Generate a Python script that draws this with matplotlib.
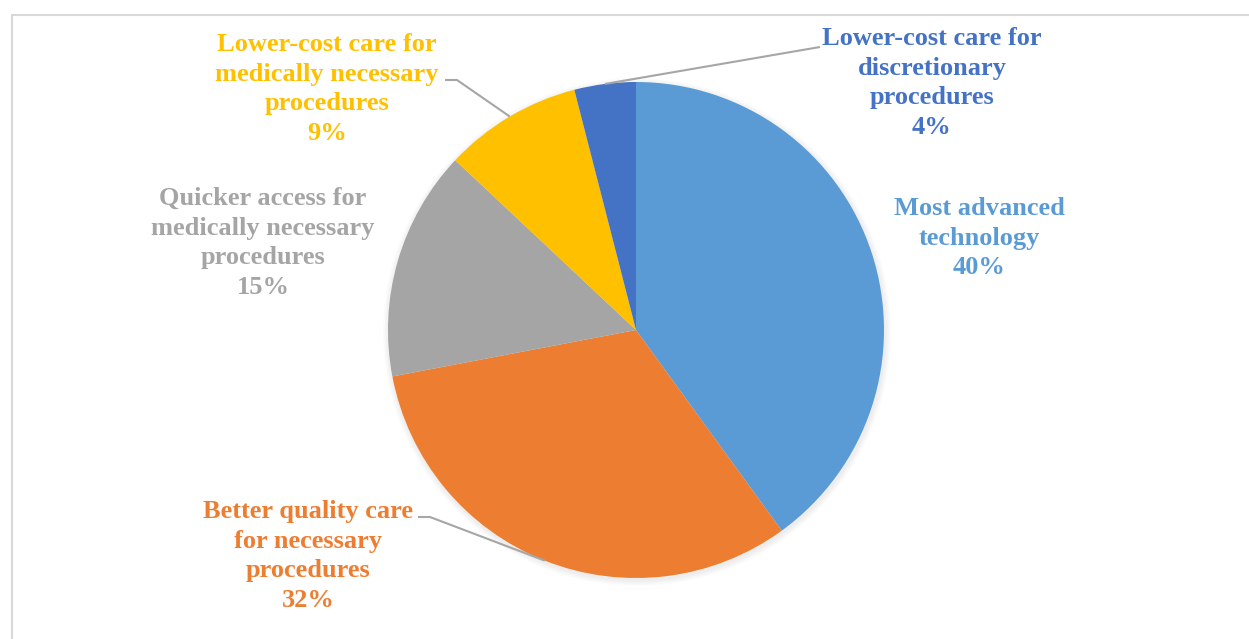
import numpy as np
import matplotlib
matplotlib.use("Agg")
import matplotlib.pyplot as plt
from matplotlib.patches import Rectangle, Circle

# data
labels = ["Most advanced\ntechnology",
          "Better quality care\nfor necessary\nprocedures",
          "Quicker access for\nmedically necessary\nprocedures",
          "Lower-cost care for\nmedically necessary\nprocedures",
          "Lower-cost care for\ndiscretionary\nprocedures"]
values = [40, 32, 15, 9, 4]
colors = ["#5B9BD5", "#ED7D31", "#A5A5A5", "#FFC000", "#4472C4"]

W, H = 1249, 639
fig = plt.figure(figsize=(W / 100, H / 100), dpi=100)
ax = fig.add_axes([0, 0, 1, 1])

cx, cy, R = 636, H - 330, 248

# soft shadow
for k in range(6):
    ax.add_patch(Circle((cx + 1, cy - 2), R + 6 - k, color="black", alpha=0.012, lw=0))

wedges, _ = ax.pie(values, colors=colors, startangle=90, counterclock=False,
                   center=(cx, cy), radius=R, frame=True,
                   wedgeprops=dict(linewidth=0))
ax.set_xlim(0, W)
ax.set_ylim(0, H)
ax.axis("off")

# label block centres in pixels
label_pos = [(979, 238), (308, 556), (263, 243), (327, 89), (932, 83)]
leader = [None, (418, 517), None, (445, 80), (820, 47)]

font = dict(family="Liberation Serif", fontweight="bold", fontsize=19)
for i, (lab, v) in enumerate(zip(labels, values)):
    x, y = label_pos[i]
    ax.text(x, H - y, "%s\n%d%%" % (lab, v), color=colors[i], ha="center", va="center",
            linespacing=1.37, **font)
    if leader[i] is not None:
        # point on edge at slice mid angle
        w = wedges[i]
        mid = np.deg2rad((w.theta1 + w.theta2) / 2)
        ex, ey = cx + R * np.cos(mid), cy + R * np.sin(mid)
        lx, ly = leader[i]
        if i == 4:
            xs, ys = [lx, ex], [H - ly, ey]
        else:
            xs, ys = [lx, lx + 12, ex], [H - ly, H - ly, ey]
        ax.plot(xs, ys, color="#A6A6A6", lw=1.5, solid_capstyle="butt")

# chart border
fig.patches.append(Rectangle((12 / W, 0 - 0.01), 1.05, (H - 15) / H + 0.01,
                             transform=fig.transFigure, fill=False,
                             edgecolor="#D9D9D9", lw=1.5))

fig.savefig("out.png", dpi=100)
